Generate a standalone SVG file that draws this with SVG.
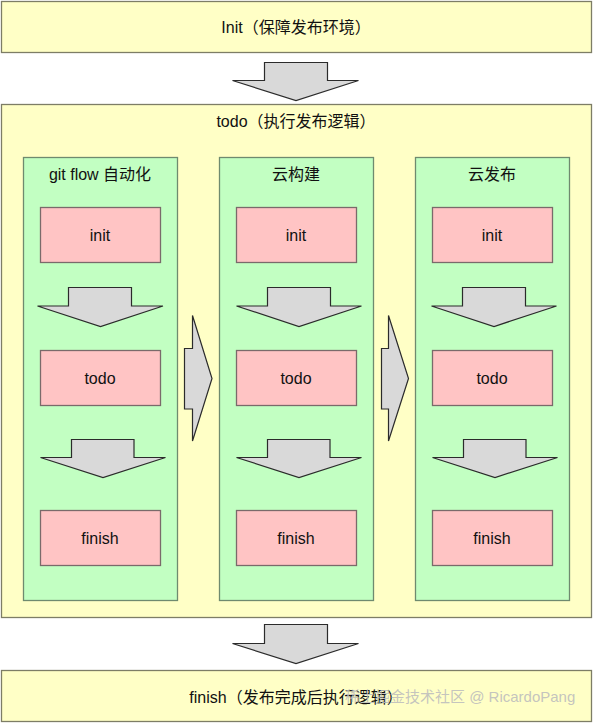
<svg xmlns="http://www.w3.org/2000/svg" width="593" height="723" viewBox="0 0 593 723">
<style>
.y{fill:#FFFFC6;stroke:#7d7d66;stroke-width:1.3}
.g{fill:#C2FFC2;stroke:#6f8a6f;stroke-width:1.3}
.p{fill:#FFC4C4;stroke:#7a6a6a;stroke-width:1.3}
.a{fill:#D9D9D9;stroke:#2b2b2b;stroke-width:1.2;stroke-linejoin:miter}
text{font-family:"Liberation Sans","Noto Sans CJK SC",sans-serif;font-size:16px;fill:#111;text-anchor:middle;dominant-baseline:central}
.wm{font-size:15px;fill:#bdbdbd;fill-opacity:0.9;text-anchor:start}
</style>
<rect width="593" height="723" fill="#fff"/>
<g id="init-stage"><rect class="y" x="1.5" y="1.5" width="590" height="51"/><text x="296" y="27">Init（保障发布环境）</text></g>
<g id="todo-stage"><rect class="y" x="1.5" y="104.5" width="590" height="513"/><text x="296" y="121">todo（执行发布逻辑）</text></g>
<g id="finish-stage"><rect class="y" x="1.5" y="670.5" width="590" height="51"/><text x="296" y="697">finish（发布完成后执行逻辑）</text></g>

<g id="col-gitflow"><rect class="g" x="23.5" y="157.5" width="154" height="443"/><text x="100" y="174">git flow 自动化</text></g>
<g id="col-build"><rect class="g" x="219.5" y="157.5" width="154" height="443"/><text x="296" y="174">云构建</text></g>
<g id="col-deploy"><rect class="g" x="415.5" y="157.5" width="154" height="443"/><text x="492" y="174">云发布</text></g>

<g id="gitflow-init"><rect class="p" x="40.5" y="207.5" width="120" height="55"/><text x="100" y="235">init</text></g>
<g id="gitflow-todo"><rect class="p" x="40.5" y="350.5" width="120" height="55"/><text x="100" y="378">todo</text></g>
<g id="gitflow-finish"><rect class="p" x="40.5" y="510.5" width="120" height="55"/><text x="100" y="538">finish</text></g>
<g id="build-init"><rect class="p" x="236.5" y="207.5" width="120" height="55"/><text x="296" y="235">init</text></g>
<g id="build-todo"><rect class="p" x="236.5" y="350.5" width="120" height="55"/><text x="296" y="378">todo</text></g>
<g id="build-finish"><rect class="p" x="236.5" y="510.5" width="120" height="55"/><text x="296" y="538">finish</text></g>
<g id="deploy-init"><rect class="p" x="432.5" y="207.5" width="120" height="55"/><text x="492" y="235">init</text></g>
<g id="deploy-todo"><rect class="p" x="432.5" y="350.5" width="120" height="55"/><text x="492" y="378">todo</text></g>
<g id="deploy-finish"><rect class="p" x="432.5" y="510.5" width="120" height="55"/><text x="492" y="538">finish</text></g>

<g id="connectors">
<polygon class="a" points="264.5,62.5 327.5,62.5 327.5,80.5 358.5,80.5 296,100.5 232.5,80.5 264.5,80.5"/>
<polygon class="a" points="264.5,624.5 327.5,624.5 327.5,643.5 358.5,643.5 296,663.5 232.5,643.5 264.5,643.5"/>

<polygon class="a" points="68.5,287.5 131.5,287.5 131.5,306 163,306 100.5,326.5 37.5,306 68.5,306"/>
<polygon class="a" points="71.5,439.5 134,439.5 134,457.5 165.5,457.5 103,477.5 40.5,457.5 71.5,457.5"/>
<polygon class="a" points="267.5,287.5 330.5,287.5 330.5,306 361.5,306 299,326.5 236.5,306 267.5,306"/>
<polygon class="a" points="267.5,439.5 330,439.5 330,457.5 361.5,457.5 299,477.5 236.5,457.5 267.5,457.5"/>
<polygon class="a" points="462.5,287.5 525.5,287.5 525.5,306 556.5,306 494,326.5 431.5,306 462.5,306"/>
<polygon class="a" points="463.5,439.5 526,439.5 526,457.5 557.5,457.5 495,477.5 432.5,457.5 463.5,457.5"/>

<polygon class="a" points="184.5,348.5 192.5,348.5 192.5,315.5 212,378.5 192.5,441 192.5,409 184.5,409"/>
<polygon class="a" points="381.5,348.5 388.5,348.5 388.5,315.5 408.5,378.5 388.5,441 388.5,409 381.5,409"/>
</g>
<text class="wm" x="345" y="696">稀土掘金技术社区 @ RicardoPang</text>
</svg>
